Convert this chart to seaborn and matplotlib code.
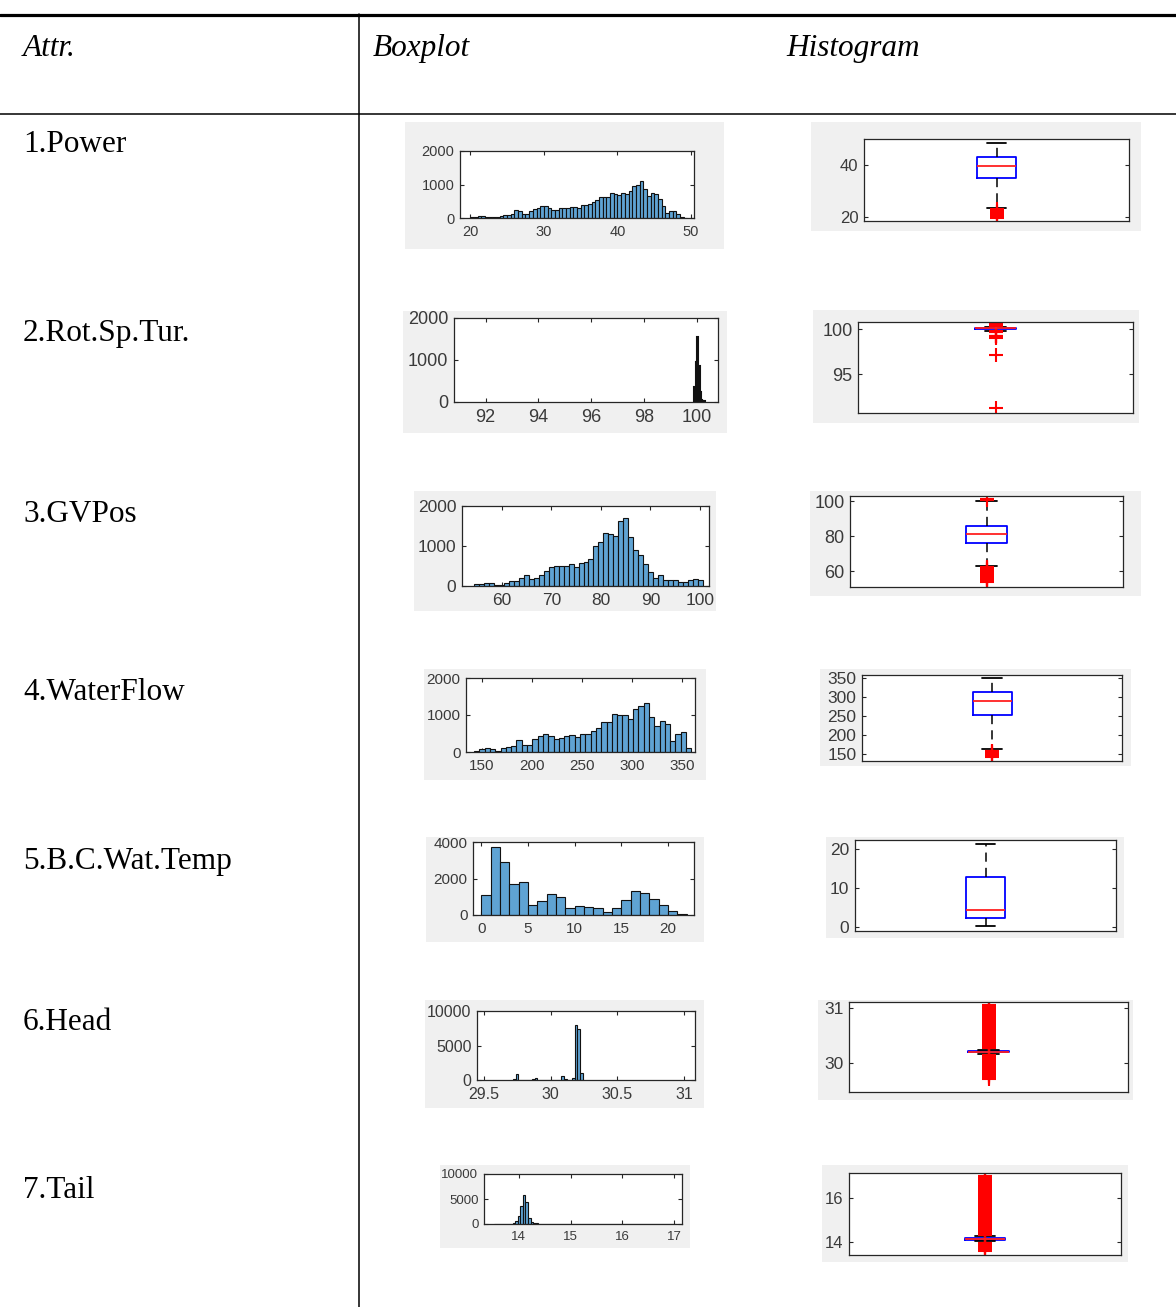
import numpy as np
import pandas as pd
import seaborn as sns
import matplotlib
matplotlib.use("Agg")
import matplotlib.pyplot as plt
from matplotlib.patches import Rectangle
from matplotlib.lines import Line2D

# ---------------- data ----------------
row_labels = ["1.Power", "2.Rot.Sp.Tur.", "3.GVPos", "4.WaterFlow",
              "5.B.C.Wat.Temp", "6.Head", "7.Tail"]
header_labels = ["Attr.", "Boxplot", "Histogram"]

# histograms: (bin start, bin end, counts)
power_range = (20.0, 49.5)
power_counts = [20, 20, 70, 70, 20, 20, 20, 20, 60, 90, 90, 120, 230, 200, 130, 130,
                200, 260, 300, 370, 370, 300, 240, 240, 300, 300, 300, 330, 330, 300,
                400, 380, 430, 480, 550, 640, 640, 640, 740, 720, 690, 740, 720, 820,
                950, 980, 1100, 880, 650, 740, 730, 560, 350, 150, 200, 200, 130, 30, 0]

rotsp_range = (99.9, 100.3)
rotsp_counts = [350, 950, 1550, 850, 250, 50, 30, 20]

gvpos_range = (54.5, 100.5)
gvpos_counts = [40, 40, 75, 75, 35, 35, 75, 115, 115, 210, 280, 180, 210, 280, 375,
                475, 500, 500, 500, 540, 475, 575, 610, 680, 1000, 1100, 1330, 1300,
                1240, 1625, 1690, 1225, 910, 770, 540, 350, 200, 280, 140, 140, 140,
                110, 110, 160, 180, 140]

water_range = (142.0, 359.3)
water_counts = [25, 80, 110, 70, 25, 100, 130, 170, 330, 200, 200, 340, 430, 500, 440,
                340, 370, 430, 460, 410, 480, 500, 560, 660, 800, 800, 1030, 1000, 1000,
                900, 1150, 1250, 1320, 940, 700, 840, 770, 300, 500, 530, 110]

temp_range = (0.0, 22.0)
temp_counts = [1090, 3700, 2900, 1700, 1810, 555, 740, 1150, 960, 410, 500, 425, 370,
               150, 370, 815, 1300, 1220, 890, 555, 220, 75]

head_range = (29.72, 30.24)
head_values = [29.73, 29.75, 29.87, 29.89, 30.09, 30.11, 30.17, 30.19, 30.21, 30.23]
head_counts = [200, 900, 150, 350, 600, 150, 350, 7900, 7400, 1000]

tail_range = (13.53, 17.03)
tail_values = [13.555, 13.755, 13.805, 13.855, 13.905, 13.955, 14.005, 14.055, 14.105,
               14.155, 14.205, 14.255, 14.305, 14.355, 16.955]
tail_counts = [60, 30, 40, 80, 200, 700, 1700, 3700, 5800, 4500, 1300, 400, 250, 200, 20]

# boxplot statistics: median, q1, q3, lower whisker, upper whisker, outliers
power_box = [39.8, 35.0, 43.2, 23.5, 48.5]
power_out = [19.5, 20.0, 20.5, 21.0, 21.5, 22.0, 22.5, 23.0]

rotsp_box = [100.08, 100.02, 100.15, 99.85, 100.3]
rotsp_out = [100.4, 100.5, 100.6, 99.75, 99.7, 99.65, 99.3, 99.25, 99.2, 99.1, 99.0,
             97.1, 91.2]

gvpos_box = [81.5, 76.2, 85.7, 63.0, 100.1]
gvpos_out = [100.9, 101.1, 53.7, 54.2, 54.7, 55.2, 55.7, 56.2, 56.7, 57.2, 57.7, 58.2,
             58.7, 59.2, 59.7, 60.2, 60.7, 61.2, 61.7, 62.2, 62.5]

water_box = [289.0, 252.0, 313.0, 163.0, 350.0]
water_out = [142.0, 144.5, 147.0, 149.5, 152.0, 154.5, 157.0, 159.5]

temp_box = [4.5, 2.5, 12.8, 0.3, 21.5]
temp_out = []

head_box = [30.205, 30.19, 30.22, 30.17, 30.24]
head_out = [29.70, 29.72, 29.74, 29.76, 29.78, 29.80, 29.82, 29.84, 29.86, 29.88, 29.90,
            29.92, 29.94, 29.96, 29.98, 30.0, 30.02, 30.04, 30.06, 30.08, 30.10, 30.12,
            30.14, 30.15, 30.27, 30.29, 30.31, 30.33, 30.35, 30.37, 30.39, 30.41, 30.43,
            30.45, 30.47, 30.49, 30.51, 30.53, 30.55, 30.57, 30.59, 30.61, 30.63, 30.65,
            30.67, 30.69, 30.71, 30.73, 30.75, 30.77, 30.79, 30.81, 30.83, 30.85, 30.87,
            30.89, 30.91, 30.93, 30.95, 30.97, 30.99, 31.01, 31.03, 31.05]

tail_box = [14.12, 14.09, 14.16, 14.02, 14.25]
tail_out = [13.6, 13.64, 13.68, 13.72, 13.76, 13.8, 13.84, 13.88, 13.92, 13.96, 14.3,
            14.35, 14.4, 14.45, 14.5, 14.55, 14.6, 14.65, 14.7, 14.75, 14.8, 14.85, 14.9,
            14.95, 15.0, 15.05, 15.1, 15.15, 15.2, 15.25, 15.3, 15.35, 15.4, 15.45, 15.5,
            15.55, 15.6, 15.65, 15.7, 15.75, 15.8, 15.85, 15.9, 15.95, 16.0, 16.05, 16.1,
            16.15, 16.2, 16.25, 16.3, 16.35, 16.4, 16.45, 16.5, 16.55, 16.6, 16.65, 16.7,
            16.75, 16.8, 16.85, 16.9, 16.95, 17.0]

# tick values
power_xt, power_yt = [20, 30, 40, 50], [0, 1000, 2000]
rotsp_xt, rotsp_yt = [92, 94, 96, 98, 100], [0, 1000, 2000]
gvpos_xt, gvpos_yt = [60, 70, 80, 90, 100], [0, 1000, 2000]
water_xt, water_yt = [150, 200, 250, 300, 350], [0, 1000, 2000]
temp_xt, temp_yt = [0, 5, 10, 15, 20], [0, 2000, 4000]
head_xt, head_yt = [29.5, 30, 30.5, 31], [0, 5000, 10000]
tail_xt, tail_yt = [14, 15, 16, 17], [0, 5000, 10000]

power_bt = [20, 40]
rotsp_bt = [95, 100]
gvpos_bt = [60, 80, 100]
water_bt = [150, 200, 250, 300, 350]
temp_bt = [0, 10, 20]
head_bt = [30, 31]
tail_bt = [14, 16]

# ---------------- figure ----------------
W, H = 1176, 1307
sns.set_theme(style="white")
plt.rcParams["font.family"] = ["Liberation Sans", "DejaVu Sans"]

fig = plt.figure(figsize=(W / 100, H / 100), dpi=100)
fig.patch.set_facecolor("white")


def fx(x):
    return x / W


def fy(y):
    return 1 - y / H


# table rules
fig.add_artist(Line2D([0, 1], [fy(14.5), fy(14.5)], color="black", lw=2.3))
fig.add_artist(Line2D([0, 1], [fy(114), fy(114)], color="black", lw=1.1))
fig.add_artist(Line2D([fx(359), fx(359)], [fy(14), 0], color="black", lw=1.1))

serif = ["Liberation Serif", "DejaVu Serif"]
for txt, x in zip(header_labels, [23, 373, 786]):
    fig.text(fx(x), fy(56), txt, family=serif, style="italic", fontsize=22.5,
             va="baseline", ha="left", color="black")

label_y = [142, 331, 511, 690, 858, 1020, 1187]
for txt, y in zip(row_labels, label_y):
    fig.text(fx(23), fy(y + 10.5), txt, family=serif, fontsize=22.5,
             va="baseline", ha="left", color="black")

GREY = "#f0f0f0"
BAR = "#5fa3d3"
TXT = "#3a3a3a"


def grey(box):
    x0, y0, x1, y1 = box
    fig.add_artist(Rectangle((fx(x0), fy(y1)), (x1 - x0) / W, (y1 - y0) / H,
                             transform=fig.transFigure, facecolor=GREY,
                             edgecolor="none", zorder=-5))


def make_ax(box):
    l, t, r, b = box
    ax = fig.add_axes([fx(l), fy(b), (r - l) / W, (b - t) / H])
    ax.set_facecolor("white")
    for s in ax.spines.values():
        s.set_visible(True)
        s.set_color("#262626")
        s.set_linewidth(0.9)
    ax.grid(False)
    return ax


def fmt(v):
    return f"{v:g}"


def hist_panel(gbox, abox, rng, counts, values, nbins, xlim, ylim, xt, yt, fs, lw=0.8):
    grey(gbox)
    ax = make_ax(abox)
    n = len(counts)
    if values is None:
        w = (rng[1] - rng[0]) / n
        values = [rng[0] + w * (i + 0.5) for i in range(n)]
        nbins = n
    df = pd.DataFrame({"v": values, "c": counts})
    sns.histplot(data=df, x="v", weights="c", bins=nbins, binrange=rng, color=BAR,
                 edgecolor="#111111", linewidth=lw, alpha=1.0, ax=ax)
    ax.set_xlim(*xlim)
    ax.set_ylim(*ylim)
    ax.set_xticks(xt)
    ax.set_xticklabels([fmt(v) for v in xt])
    ax.set_yticks(yt)
    ax.set_yticklabels([fmt(v) for v in yt])
    ax.set_xlabel("")
    ax.set_ylabel("")
    ax.tick_params(direction="in", length=3, width=0.8, color="#262626",
                   labelcolor=TXT, labelsize=fs, top=True, right=True,
                   bottom=True, left=True, pad=4)
    ax.tick_params(axis="x", pad=5)
    return ax


def box_panel(gbox, abox, stats, out, ylim, yt, fs):
    grey(gbox)
    ax = make_ax(abox)
    med, q1, q3, lo, hi = stats
    st = [dict(med=med, q1=q1, q3=q3, whislo=lo, whishi=hi, fliers=out)]
    ax.bxp(st, positions=[1], widths=0.15, capwidths=0.075, showfliers=True,
           boxprops=dict(color="#0000ff", lw=1.3),
           medianprops=dict(color="#ff2020", lw=1.3),
           whiskerprops=dict(color="black", lw=1.1, linestyle=(0, (6, 4))),
           capprops=dict(color="black", lw=1.3),
           flierprops=dict(marker="+", markeredgecolor="#ff0000",
                           markerfacecolor="none", markersize=9.5, mew=1.5,
                           linestyle="none"))
    ax.set_xlim(0.5, 1.5)
    ax.set_ylim(*ylim)
    ax.set_xticks([])
    ax.set_yticks(yt)
    ax.set_yticklabels([fmt(v) for v in yt])
    ax.tick_params(axis="y", direction="in", length=3, width=0.8, color="#262626",
                   labelcolor=TXT, labelsize=fs, left=True, right=True, pad=4)
    return ax


hist_panel((405, 122, 724, 249), (460, 151, 694, 218), power_range, power_counts, None,
           None, (18.6, 50.4), (0, 2000), power_xt, power_yt, 10.5)
hist_panel((403, 311, 727, 433), (454, 318, 718, 402), rotsp_range, rotsp_counts, None,
           None, (90.8, 100.8), (0, 2000), rotsp_xt, rotsp_yt, 13, lw=1.5)
hist_panel((414, 491, 716, 611), (462, 506, 709, 586), gvpos_range, gvpos_counts, None,
           None, (52, 101.8), (0, 2000), gvpos_xt, gvpos_yt, 12.5)
hist_panel((424, 669, 706, 780), (466, 678, 695, 752), water_range, water_counts, None,
           None, (134, 363), (0, 2000), water_xt, water_yt, 11)
hist_panel((426, 837, 704, 942), (473, 842, 694, 915), temp_range, temp_counts, None,
           None, (-0.9, 22.8), (0, 4000), temp_xt, temp_yt, 11)
hist_panel((425, 1000, 704, 1108), (477, 1011, 695, 1080), head_range, head_counts,
           head_values, 26, (29.45, 31.08), (0, 10000), head_xt, head_yt, 11.5)
hist_panel((440, 1165, 690, 1248), (484, 1174, 682, 1224), tail_range, tail_counts,
           tail_values, 70, (13.33, 17.15), (0, 10000), tail_xt, tail_yt, 9.5)

box_panel((811, 122, 1141, 231), (864, 139, 1129, 221), power_box, power_out,
          (18.5, 50), power_bt, 12)
box_panel((813, 310, 1139, 423), (858, 322, 1133, 413), rotsp_box, rotsp_out,
          (90.7, 100.8), rotsp_bt, 13)
box_panel((810, 491, 1141, 596), (850, 496, 1123, 587), gvpos_box, gvpos_out,
          (51, 103), gvpos_bt, 13)
box_panel((820, 669, 1131, 766), (862, 675, 1122, 761), water_box, water_out,
          (132, 358), water_bt, 12.5)
box_panel((826, 837, 1124, 938), (855, 840, 1116, 931), temp_box, temp_out,
          (-0.95, 22.4), temp_bt, 12.5)
box_panel((818, 1000, 1133, 1100), (849, 1002, 1128, 1092), head_box, head_out,
          (29.47, 31.11), head_bt, 12.5)
box_panel((822, 1165, 1128, 1262), (849, 1173, 1121, 1255), tail_box, tail_out,
          (13.4, 17.14), tail_bt, 12)

fig.savefig("out.png", dpi=100, facecolor="white")
